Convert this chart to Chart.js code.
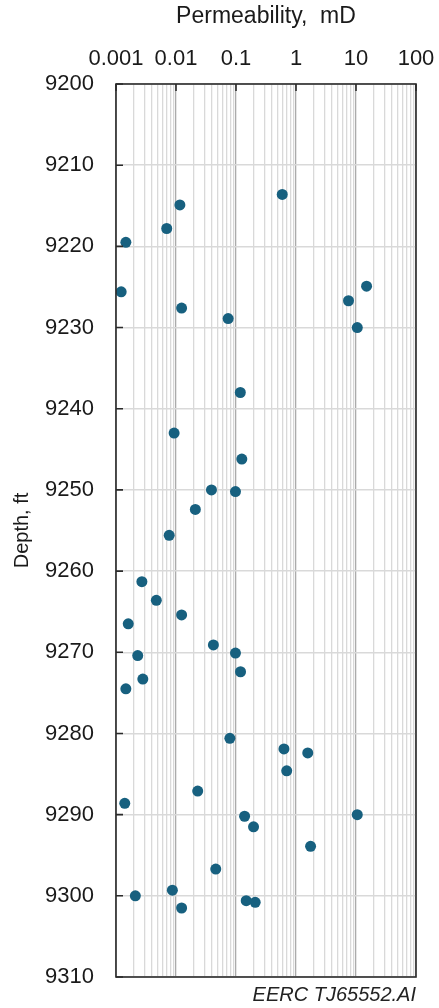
<!DOCTYPE html>
<html>
<head>
<meta charset="utf-8">
<script src="https://cdn.jsdelivr.net/npm/chart.js@4"></script>
<style>
  html, body { margin: 0; padding: 0; background: #fff; overflow: hidden; }
  #wrap { position: relative; width: 439px; height: 1008px; overflow: hidden; }
  #wrap canvas { display: block; }
</style>
</head>
<body>
<div id="wrap"><canvas id="permChart"></canvas></div>
<script>
// depth (ft) and permeability (mD)
var depth = [9213.6, 9214.9, 9217.8, 9219.5, 9224.9, 9225.6, 9226.7, 9227.6, 9228.9, 9230.0,
             9238.0, 9243.0, 9246.2, 9250.0, 9250.2, 9252.4, 9255.6, 9261.3, 9263.6, 9265.4,
             9266.5, 9269.1, 9270.1, 9270.4, 9272.4, 9273.3, 9274.5, 9280.6, 9281.9, 9282.4,
             9284.6, 9287.1, 9288.6, 9290.0, 9290.2, 9291.5, 9293.9, 9296.7, 9299.3, 9300.0,
             9300.6, 9300.8, 9301.5];
var permeability = [0.59, 0.0116, 0.0070, 0.00146, 15.0, 0.00122, 7.5, 0.0124, 0.074, 10.5,
                    0.118, 0.0093, 0.125, 0.039, 0.098, 0.021, 0.0077, 0.0027, 0.0047, 0.0124,
                    0.0016, 0.042, 0.098, 0.0023, 0.119, 0.0028, 0.00146, 0.079, 0.63, 1.57,
                    0.70, 0.023, 0.0014, 10.5, 0.139, 0.196, 1.75, 0.046, 0.0087, 0.0021,
                    0.148, 0.209, 0.0124];

var xTickValues = [0.001, 0.01, 0.1, 1, 10, 100];
var xTickLabels = ['0.001', '0.01', '0.1', '1', '10', '100'];
var depthMin = 9200, depthMax = 9310, depthStep = 10;

var points = depth.map(function(d, i) { return { x: permeability[i], y: d }; });

// 1..9 gridlines in every decade
var xGrid = [];
for (var i = 0; i < xTickValues.length - 1; i++) {
    for (var k = 1; k <= 9; k++) xGrid.push(+(xTickValues[i] * k).toPrecision(6));
}
xGrid.push(xTickValues[xTickValues.length - 1]);

function decadeIndex(v) {
    return xTickValues.findIndex(function(t) { return Math.abs(t - v) / t < 1e-6; });
}

var fontFamily = '"Liberation Sans", Arial, sans-serif';

// frame around plot + short inward ticks on left and top
var framePlugin = {
    id: 'frame',
    afterDatasetsDraw: function(chart) {
        var ctx = chart.ctx, a = chart.chartArea;
        var xs = chart.scales.x, ys = chart.scales.y;
        ctx.save();
        ctx.strokeStyle = '#2b2b2b';
        ctx.lineWidth = 1.6;
        ctx.strokeRect(a.left, a.top, a.right - a.left, a.bottom - a.top);
        ctx.beginPath();
        xTickValues.forEach(function(v) {
            var px = xs.getPixelForValue(v);
            ctx.moveTo(px, a.top);
            ctx.lineTo(px, a.top + 7);
        });
        for (var d = depthMin; d <= depthMax; d += depthStep) {
            var py = ys.getPixelForValue(d);
            ctx.moveTo(a.left, py);
            ctx.lineTo(a.left + 7, py);
        }
        ctx.stroke();
        // drawing id
        ctx.fillStyle = '#222';
        ctx.font = 'italic 20px ' + fontFamily;
        ctx.textAlign = 'right';
        ctx.textBaseline = 'middle';
        ctx.fillText('EERC TJ65552.AI', a.right, 995);
        ctx.restore();
    }
};

var ctx = document.getElementById('permChart').getContext('2d');
var permChart = new Chart(ctx, {
    type: 'scatter',
    data: {
        datasets: [{
            label: 'Permeability',
            data: points,
            backgroundColor: '#17607f',
            borderColor: '#17607f',
            pointRadius: 5.5,
            pointHoverRadius: 5.5,
            borderWidth: 0
        }]
    },
    options: {
        responsive: true,
        maintainAspectRatio: false,
        animation: false,
        layout: { padding: { left: 0, right: 23, top: 0, bottom: 31 } },
        plugins: {
            legend: { display: false },
            tooltip: { enabled: false }
        },
        scales: {
            x: {
                type: 'logarithmic',
                position: 'top',
                min: 0.001,
                max: 100,
                afterBuildTicks: function(scale) {
                    scale.ticks = xGrid.map(function(v) { return { value: v }; });
                },
                afterFit: function(scale) {
                    scale.height = 84;
                    scale.paddingLeft = 0;
                    scale.paddingRight = 0;
                },
                ticks: {
                    autoSkip: false,
                    maxRotation: 0,
                    padding: 12,
                    color: '#1a1a1a',
                    font: { family: fontFamily, size: 22 },
                    callback: function(v) {
                        var i = decadeIndex(v);
                        return i >= 0 ? xTickLabels[i] : '';
                    }
                },
                grid: {
                    drawTicks: false,
                    lineWidth: 1.3,
                    color: function(c) {
                        var v = c.tick ? c.tick.value : null;
                        return decadeIndex(v) >= 0 ? '#ababab' : '#d9d9d9';
                    }
                },
                border: { display: false },
                title: {
                    display: true,
                    text: 'Permeability,  mD',
                    color: '#1a1a1a',
                    font: { family: fontFamily, size: 23 },
                    padding: { top: 3, bottom: 0 }
                }
            },
            y: {
                type: 'linear',
                reverse: true,
                min: depthMin,
                max: depthMax,
                afterFit: function(scale) {
                    scale.width = 116;
                    scale.paddingTop = 0;
                    scale.paddingBottom = 0;
                },
                ticks: {
                    stepSize: depthStep,
                    padding: 22,
                    color: '#1a1a1a',
                    font: { family: fontFamily, size: 22 },
                    callback: function(v) { return String(v); }
                },
                grid: {
                    drawTicks: false,
                    lineWidth: 1.5,
                    color: '#d9d9d9'
                },
                border: { display: false },
                title: {
                    display: true,
                    text: 'Depth, ft',
                    color: '#1a1a1a',
                    font: { family: fontFamily, size: 20 },
                    padding: { top: 10, bottom: 0 }
                }
            }
        }
    },
    plugins: [framePlugin]
});
</script>
</body>
</html>
